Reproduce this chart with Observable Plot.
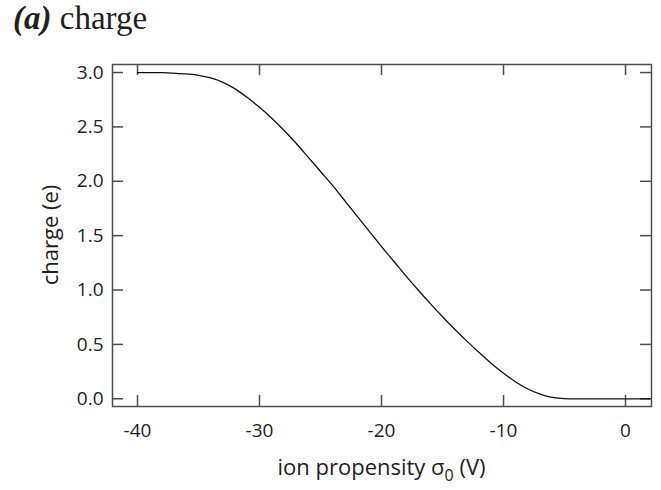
<!DOCTYPE html>
<html>
<head>
<meta charset="utf-8">
<script src="https://cdn.jsdelivr.net/npm/d3@7"></script>
<script src="https://cdn.jsdelivr.net/npm/@observablehq/plot@0.6"></script>
<style>
  body { margin: 0; background: #fff; }
  #title {
    height: 40px; box-sizing: border-box; padding: 2px 0 0 13px;
    font-family: "Liberation Serif", "Times New Roman", serif;
    font-size: 33px; line-height: 33px; color: #231f20; white-space: nowrap;
  }
  #title .tag { font-weight: bold; font-style: italic; }
  #chart svg { display: block; }
</style>
</head>
<body>
<div id="title"><span class="tag">(a)</span> charge</div>
<div id="chart"></div>
<script>
// ion propensity σ0 (V) and the resulting charge (e)
const sigma0 = [-40, -38, -36.5, -35, -34, -33, -32, -31, -30, -29, -28, -27, -26, -25, -24, -23, -22, -21, -20, -19, -18, -17, -16, -15, -14, -13, -12, -11, -10, -9, -8, -7, -6, -5, -4.5, 0, 2];
const charge = [3.0, 3.0, 2.99, 2.975, 2.95, 2.91, 2.85, 2.77, 2.68, 2.58, 2.47, 2.35, 2.22, 2.09, 1.96, 1.82, 1.68, 1.54, 1.40, 1.265, 1.13, 1.0, 0.875, 0.755, 0.64, 0.53, 0.425, 0.325, 0.235, 0.155, 0.09, 0.042, 0.012, 0.001, 0, 0, 0];

const xTicks = [-40, -30, -20, -10, 0];
const yTicks = [0, 0.5, 1.0, 1.5, 2.0, 2.5, 3.0];

const data = sigma0.map((s, i) => ({sigma0: s, charge: charge[i]}));

const W = 661, H = 450;
const mL = 112, mR = 10, mT = 24, mB = 84;
const innerW = W - mL - mR, innerH = H - mT - mB;
const tickLen = 11;
const axisColor = "#4d4d4d";
const textColor = "#231f20";
const font = "'Open Sans', sans-serif";

const chart = Plot.plot({
  width: W,
  height: H,
  marginLeft: mL,
  marginRight: mR,
  marginTop: mT,
  marginBottom: mB,
  style: {fontFamily: font, fontSize: "19px", color: textColor, background: "#fff"},
  x: {domain: [-42.05, 2.13]},
  y: {domain: [-0.071, 3.074]},
  marks: [
    // inward ticks on all four sides
    Plot.tickX(xTicks, {x: d => d, insetTop: innerH - tickLen, stroke: axisColor, strokeWidth: 1.5}),
    Plot.tickX(xTicks, {x: d => d, insetBottom: innerH - tickLen, stroke: axisColor, strokeWidth: 1.5}),
    Plot.tickY(yTicks, {y: d => d, insetRight: innerW - tickLen, stroke: axisColor, strokeWidth: 1.5}),
    Plot.tickY(yTicks, {y: d => d, insetLeft: innerW - tickLen, stroke: axisColor, strokeWidth: 1.5}),
    Plot.axisX(xTicks, {tickSize: 0, tickPadding: 17, label: null, fontSize: 19, fill: textColor, tickFormat: d => String(d)}),
    Plot.axisY(yTicks, {tickSize: 0, tickPadding: 9, label: null, fontSize: 19, fill: textColor, tickFormat: d => d.toFixed(1)}),
    Plot.line(data, {x: "sigma0", y: "charge", stroke: "#111", strokeWidth: 1.3, curve: "monotone-x"}),
    Plot.frame({stroke: axisColor, strokeWidth: 1.5})
  ]
});

// axis titles (the x title carries a subscript)
const svg = d3.select(chart);
const xt = svg.append("text")
  .attr("x", mL + innerW / 2)
  .attr("y", 435)
  .attr("text-anchor", "middle")
  .attr("fill", textColor)
  .style("font-family", font)
  .style("font-size", "22px");
xt.append("tspan").text("ion propensity σ");
xt.append("tspan").attr("dy", 6).style("font-size", "16px").text("0");
xt.append("tspan").attr("dy", -6).text(" (V)");

svg.append("text")
  .attr("transform", `translate(58,${mT + innerH / 2}) rotate(-90)`)
  .attr("text-anchor", "middle")
  .attr("fill", textColor)
  .style("font-family", font)
  .style("font-size", "22px")
  .text("charge (e)");

document.getElementById("chart").append(chart);
</script>
</body>
</html>
